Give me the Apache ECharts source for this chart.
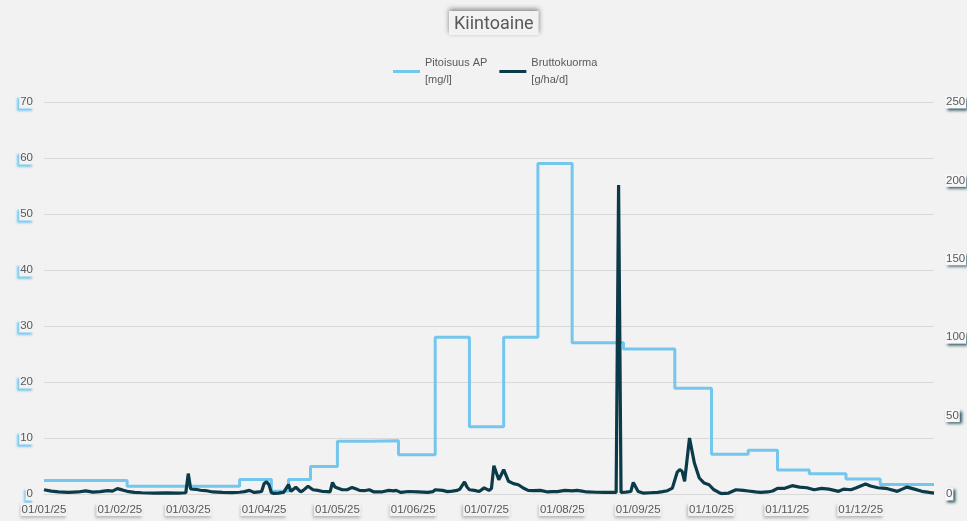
<!DOCTYPE html>
<html>
<head>
<meta charset="utf-8">
<script src="https://cdn.jsdelivr.net/npm/echarts@6/dist/echarts.min.js"></script>
<style>
  html, body { margin: 0; padding: 0; background: #f2f2f2; }
  #chart { width: 967px; height: 521px; }
</style>
</head>
<body>
<div id="chart"></div>
<script>
// Suspended solids (Kiintoaine), year 2025.
// Day-of-year index (0 = 1 Jan) for each point.
const seriesNames = ['Pitoisuus AP\n[mg/l]', 'Bruttokuorma\n[g/ha/d]'];

// Concentration: lab sample value, held until the next sample day
const concDay   = [0, 34, 80, 93, 100, 109, 120, 133, 145, 160, 174, 188, 202, 216, 237, 258, 273, 288, 300, 313, 328, 342, 364];
const concValue = [2.4, 1.4, 2.6, 0.5, 2.6, 4.9, 9.4, 9.5, 7.0, 28, 12, 28, 59, 27, 25.9, 18.9, 7.1, 7.8, 4.3, 3.6, 2.7, 1.7, 1.7];

// Gross load, daily
const loadDay = [
  0, 3, 6, 10, 14, 17, 20, 23, 26, 28, 30, 32, 34, 37, 40, 45, 50, 55, 58,
  59, 60, 62, 64, 66, 69, 73, 77, 80, 82, 84, 86, 88, 89, 90, 91, 92, 93,
  94, 96, 97, 98, 100, 101, 103, 105, 106, 108, 110, 112, 114, 116, 117, 118, 119,
  120, 122, 124, 126, 128, 129, 131, 133, 135, 138, 141, 143, 144, 146, 149, 153,
  157, 159, 160, 163, 165, 167, 169, 170, 172, 173, 174, 176, 178, 180, 182, 183,
  184, 186, 188, 190, 192, 194, 196, 198, 200, 203, 206, 208, 210, 213, 216, 218,
  220, 222, 226, 229, 232, 234, 235, 236, 238, 240, 241, 243, 245, 248, 251, 253,
  255, 257, 259, 260, 261, 262, 264, 266, 268, 270, 272, 274, 276, 277, 280, 283,
  286, 288, 291, 293, 296, 298, 300, 303, 306, 309, 312, 315, 318, 321, 325, 327,
  330, 332, 336, 338, 341, 343, 345, 349, 351, 353, 356, 359, 362, 364
];
const loadValue = [
  2.7, 1.8, 1.3, 1.0, 1.3, 2.0, 1.2, 1.5, 2.1, 1.8, 3.4, 2.6, 1.7, 1.0, 0.8, 0.6, 0.7, 0.6, 0.8,
  13, 3.2, 3.0, 2.4, 2.2, 1.3, 1.0, 0.9, 1.1, 1.5, 2.3, 1.0, 1.4, 1.6, 6.5, 7.8, 6.0, 0.8,
  0.4, 0.6, 0.9, 1.0, 6.0, 1.7, 4.3, 1.3, 2.3, 4.9, 2.7, 2.3, 1.6, 1.5, 1.3, 7.4, 4.5,
  3.9, 2.7, 2.7, 4.2, 3.0, 2.3, 2.1, 2.7, 1.3, 1.3, 2.3, 2.0, 2.3, 1.0, 1.6, 1.3,
  1.0, 1.5, 2.7, 2.3, 1.5, 1.8, 2.3, 3.0, 7.7, 4.5, 2.7, 2.3, 1.6, 3.9, 2.3, 3.5,
  18, 9.1, 15.5, 8.1, 6.6, 5.9, 3.8, 2.3, 2.1, 2.3, 1.3, 1.5, 1.5, 2.3, 2.0, 2.3,
  1.8, 1.3, 1.1, 1.0, 1.0, 1.0, 197, 1.0, 1.2, 1.6, 7.4, 1.6, 0.6, 0.8, 1.0, 1.5,
  2.1, 3.8, 14, 15.5, 14.5, 8.1, 35.7, 19.7, 10.2, 7.0, 5.9, 2.7, 1.0, 0.3, 0.6, 2.7,
  2.3, 1.9, 1.3, 1.0, 1.3, 1.9, 3.6, 3.6, 5.3, 4.4, 4.0, 2.7, 3.6, 3.1, 1.7, 3.1,
  2.7, 3.8, 6.4, 5.1, 4.0, 3.8, 3.4, 1.7, 3.1, 4.4, 3.1, 1.7, 1.0, 0.6
];

// Axis ranges
const leftAxis  = { min: 0, max: 70, interval: 10 };
const rightAxis = { min: 0, max: 250, interval: 50 };

const dayToTime = d => new Date(2025, 0, 1 + d).getTime();
const pad2 = n => (n < 10 ? '0' : '') + n;
const fmtDate = v => {
  const d = new Date(v);
  return pad2(d.getDate()) + '/' + pad2(d.getMonth() + 1) + '/' + pad2(d.getFullYear() % 100);
};

const concData = concDay.map((d, i) => [dayToTime(d), concValue[i]]);
const loadData = loadDay.map((d, i) => [dayToTime(d), loadValue[i]]);

const FONT = 'Liberation Sans, Arial, sans-serif';
const TEXT = '#595959';

const chart = echarts.init(document.getElementById('chart'), null, { renderer: 'canvas' });
chart.setOption({
  backgroundColor: '#f2f2f2',
  animation: false,
  title: {
    text: 'Kiintoaine',
    left: 449,
    top: 11,
    padding: [4, 5, 2, 5],
    backgroundColor: '#f2f2f2',
    shadowColor: 'rgba(0,0,0,0.45)',
    shadowBlur: 5,
    shadowOffsetY: -2,
    textStyle: { fontFamily: 'Liberation Sans Narrow, Roboto, sans-serif', fontSize: 18, fontWeight: 'normal', color: TEXT }
  },
  legend: {
    left: 388,
    top: 41,
    icon: 'rect',
    itemWidth: 27,
    itemHeight: 3,
    itemGap: 12,
    textStyle: { fontFamily: FONT, fontSize: 11, color: TEXT, lineHeight: 17, padding: [17, 0, 0, 0] },
    data: seriesNames
  },
  grid: { left: 44, right: 33, top: 102, bottom: 27, containLabel: false, outerBoundsMode: 'none' },
  xAxis: {
    type: 'time',
    min: dayToTime(0),
    max: dayToTime(364),
    splitNumber: 12,
    axisLine: { show: true, lineStyle: { color: '#d9d9d9' } },
    axisTick: { show: false },
    splitLine: { show: false },
    axisLabel: {
      formatter: fmtDate,
      fontFamily: FONT, fontSize: 11.5, color: TEXT, margin: 9,
      backgroundColor: '#f2f2f2', padding: [1, 1, 0, 1],
      shadowColor: 'rgba(0,0,0,0.25)', shadowBlur: 3, shadowOffsetX: -1, shadowOffsetY: 2
    }
  },
  yAxis: [
    {
      type: 'value', position: 'left',
      min: leftAxis.min, max: leftAxis.max, interval: leftAxis.interval,
      axisLine: { show: false }, axisTick: { show: false },
      splitLine: { lineStyle: { color: '#d9d9d9', width: 1 } },
      axisLabel: {
        fontFamily: FONT, fontSize: 11.5, color: TEXT, margin: 10,
        backgroundColor: '#f2f2f2', padding: [1, 1, 0, 1],
        shadowColor: '#7ccaf0', shadowBlur: 2, shadowOffsetX: -2, shadowOffsetY: 2
      }
    },
    {
      type: 'value', position: 'right',
      min: rightAxis.min, max: rightAxis.max, interval: rightAxis.interval,
      axisLine: { show: false }, axisTick: { show: false },
      splitLine: { show: false },
      axisLabel: {
        fontFamily: FONT, fontSize: 11.5, color: TEXT, margin: 11,
        backgroundColor: '#f7f7f7', padding: [1, 1, 0, 1],
        shadowColor: '#2c5562', shadowBlur: 3, shadowOffsetX: 2, shadowOffsetY: 2
      }
    }
  ],
  series: [
    {
      name: seriesNames[0],
      type: 'line',
      yAxisIndex: 0,
      step: 'end',
      showSymbol: false,
      data: concData,
      itemStyle: { color: '#75c6ec' },
      lineStyle: { color: '#75c6ec', width: 3 }
    },
    {
      name: seriesNames[1],
      type: 'line',
      yAxisIndex: 1,
      showSymbol: false,
      data: loadData,
      itemStyle: { color: '#0b3a48' },
      lineStyle: { color: '#0b3a48', width: 3.2 }
    }
  ]
});
</script>
</body>
</html>
